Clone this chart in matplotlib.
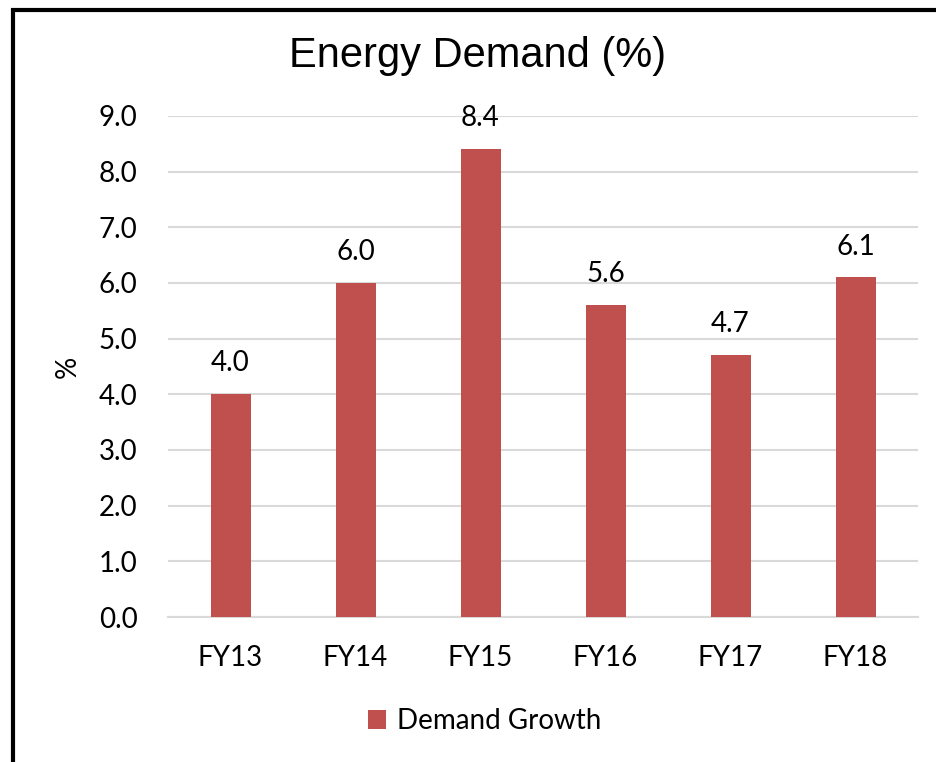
import matplotlib
matplotlib.use("Agg")
import matplotlib.pyplot as plt
from matplotlib.patches import Rectangle

categories = ["FY13", "FY14", "FY15", "FY16", "FY17", "FY18"]
demand_growth = [4.0, 6.0, 8.4, 5.6, 4.7, 6.1]
y_ticks = [0.0, 1.0, 2.0, 3.0, 4.0, 5.0, 6.0, 7.0, 8.0, 9.0]

W, H, DPI = 936, 762, 100
BAR_COLOR = "#c0504d"
GRID_COLOR = "#d9d9d9"
BODY_FONT = "Lato"
TITLE_FONT = "Liberation Sans"
FS = 20

fig = plt.figure(figsize=(W / DPI, H / DPI), dpi=DPI)
fig.patch.set_facecolor("white")

# plot area in pixel terms
left, right, top, bottom = 168, 918, 116, 617
ax = fig.add_axes([left / W, 1 - bottom / H, (right - left) / W, (bottom - top) / H])

x = list(range(len(categories)))
bars = ax.bar(x, demand_growth, width=0.32, color=BAR_COLOR, zorder=3,
              label="Demand Growth")

ax.set_xlim(-0.5, len(categories) - 0.5)
ax.set_ylim(0, 9)
ax.set_yticks(y_ticks)
ax.set_yticklabels([f"{v:.1f}" for v in y_ticks], fontsize=FS, family=BODY_FONT)
ax.set_xticks(x)
ax.set_xticklabels(categories, fontsize=FS, family=BODY_FONT)
ax.tick_params(axis="y", length=0, pad=22)
ax.tick_params(axis="x", length=0, pad=20)

ax.grid(axis="y", color=GRID_COLOR, linewidth=1.5, zorder=0)
for side in ("top", "right", "left"):
    ax.spines[side].set_visible(False)
ax.spines["bottom"].set_color(GRID_COLOR)
ax.spines["bottom"].set_linewidth(1.5)

for xi, v in zip(x, demand_growth):
    ax.annotate(f"{v:.1f}", xy=(xi, v), xytext=(0, 16.5), textcoords="offset points",
                ha="center", va="baseline", fontsize=FS, family=BODY_FONT)

ax.set_ylabel("%", fontsize=FS, family=BODY_FONT, va="center", ha="center")
ax.yaxis.set_label_coords((68 - left) / (right - left), 0.5)

fig.text(478 / W, 1 - 56 / H, "Energy Demand (%)", fontsize=30, family=TITLE_FONT,
         ha="center", va="center")

leg = fig.legend(handles=[bars], labels=["Demand Growth"], loc="center",
                 bbox_to_anchor=(485 / W, 1 - 721 / H), frameon=False,
                 prop={"family": BODY_FONT, "size": FS},
                 handlelength=0.65, handleheight=0.65, handletextpad=0.4)

# outer chart frame (right and bottom edges lie beyond the canvas)
fig.patches.append(Rectangle((13 / W, -0.1), 1.2, 1 - 10 / H + 0.1,
                             transform=fig.transFigure, fill=False,
                             edgecolor="black", linewidth=3.0))

fig.savefig("out.png", dpi=DPI)
